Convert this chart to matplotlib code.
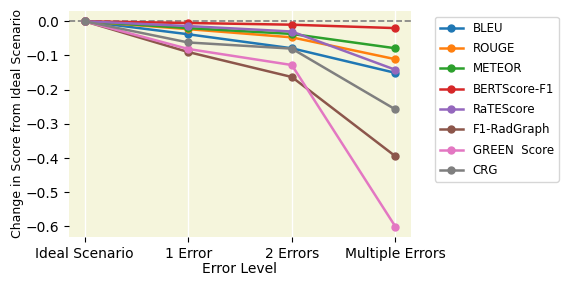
import numpy as np
import matplotlib
matplotlib.use("Agg")
import matplotlib.pyplot as plt

# error levels on the x axis
levels = ["Ideal Scenario", "1 Error", "2 Errors", "Multiple Errors"]

# change in score relative to the ideal scenario
bleu = [0.0, -0.038, -0.079, -0.151]
rouge = [0.0, -0.023, -0.047, -0.111]
meteor = [0.0, -0.020, -0.037, -0.079]
bertscore = [0.0, -0.005, -0.010, -0.020]
ratescore = [0.0, -0.014, -0.030, -0.142]
f1_radgraph = [0.0, -0.090, -0.163, -0.395]
green_score = [0.0, -0.081, -0.128, -0.601]
crg = [0.0, -0.062, -0.080, -0.258]

series = [
    ("BLEU", bleu),
    ("ROUGE", rouge),
    ("METEOR", meteor),
    ("BERTScore-F1", bertscore),
    ("RaTEScore", ratescore),
    ("F1-RadGraph", f1_radgraph),
    ("GREEN  Score", green_score),
    ("CRG", crg),
]

fig = plt.figure(figsize=(5.76, 2.88), dpi=100)
ax = fig.add_axes([69 / 576, 1 - 237 / 288, (411 - 69) / 576, (237 - 11) / 288])
ax.set_facecolor("#f5f5dc")

x = np.arange(len(levels))
for name, vals in series:
    ax.plot(x, vals, marker="o", markersize=5, linewidth=1.8, label=name)

ax.axhline(0, color="gray", linestyle="--", linewidth=1.2, zorder=0)

ax.set_xticks(x)
ax.set_xticklabels(levels, fontsize=10)
ax.tick_params(axis="y", labelsize=10)
ax.grid(axis="x", color="white", linewidth=1)
ax.set_axisbelow(True)
for s in ax.spines.values():
    s.set_visible(False)

ax.set_xlabel("Error Level", fontsize=10, labelpad=1)
ax.set_ylabel("Change in Score from Ideal Scenario", fontsize=9, labelpad=1)

ax.legend(bbox_to_anchor=(1.07, 0.973), loc="upper left", fontsize=8.5,
          labelspacing=0.62, borderaxespad=0)

fig.savefig("out.png", dpi=100)
